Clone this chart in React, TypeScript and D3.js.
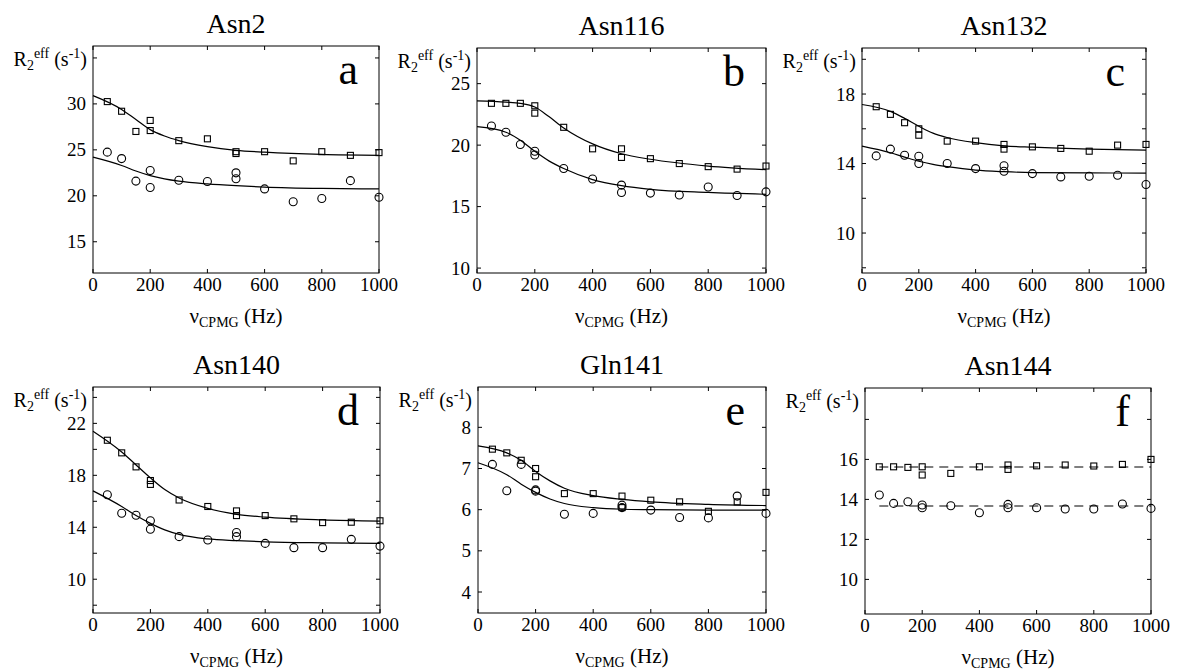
import React, { useRef, useEffect } from "react";
import * as d3 from "d3";

// CPMG frequencies (Hz) of the measured points, same for every residue
const nuCpmg = [50, 100, 150, 200, 200, 300, 400, 500, 500, 600, 700, 800, 900, 1000];
const fitGrid = [0, 100, 150, 200, 250, 300, 400, 500, 600, 800, 1000];
const flatGrid = [50, 1000];
const xTicks = [0, 200, 400, 600, 800, 1000];

const titles = ["Asn2", "Asn116", "Asn132", "Asn140", "Gln141", "Asn144"];
const letters = ["a", "b", "c", "d", "e", "f"];

// Asn2
const asn2Sq = [30.25, 29.2, 27.0, 28.2, 27.1, 26.0, 26.2, 24.8, 24.6, 24.8, 23.8, 24.8, 24.4, 24.7];
const asn2Ci = [24.75, 24.05, 21.6, 22.75, 20.9, 21.7, 21.55, 22.5, 21.85, 20.75, 19.35, 19.7, 21.65, 19.85];
const asn2SqFit = [30.9, 29.4, 28.3, 27.2, 26.5, 26.0, 25.35, 24.95, 24.75, 24.5, 24.4];
const asn2CiFit = [24.2, 23.3, 22.7, 22.2, 21.85, 21.6, 21.3, 21.1, 20.95, 20.8, 20.75];

// Asn116
const asn116Sq = [23.4, 23.4, 23.4, 23.2, 22.6, 21.45, 19.7, 19.7, 19.0, 18.9, 18.5, 18.25, 18.05, 18.3];
const asn116Ci = [21.55, 21.05, 20.05, 19.5, 19.2, 18.1, 17.25, 16.75, 16.15, 16.1, 15.95, 16.6, 15.9, 16.2];
const asn116SqFit = [23.6, 23.5, 23.4, 23.1, 22.3, 21.4, 20.1, 19.3, 18.85, 18.3, 18.0];
const asn116CiFit = [21.5, 21.05, 20.4, 19.5, 18.7, 18.1, 17.2, 16.7, 16.4, 16.15, 16.0];

// Asn132
const asn132Sq = [17.27, 16.83, 16.35, 16.0, 15.63, 15.29, 15.29, 15.1, 14.83, 14.96, 14.87, 14.71, 15.06, 15.1];
const asn132Ci = [14.44, 14.83, 14.48, 14.42, 14.0, 14.0, 13.71, 13.87, 13.56, 13.42, 13.23, 13.27, 13.33, 12.79];
const asn132SqFit = [17.4, 17.0, 16.6, 16.15, 15.75, 15.5, 15.2, 15.02, 14.94, 14.83, 14.77];
const asn132CiFit = [15.0, 14.62, 14.37, 14.13, 13.95, 13.82, 13.62, 13.53, 13.48, 13.46, 13.45];

// Asn140
const asn140Sq = [20.7, 19.73, 18.65, 17.6, 17.3, 16.1, 15.6, 15.26, 14.9, 14.9, 14.65, 14.36, 14.39, 14.5];
const asn140Ci = [16.5, 15.08, 14.93, 14.5, 13.85, 13.28, 13.02, 13.6, 13.28, 12.76, 12.43, 12.43, 13.07, 12.55];
const asn140SqFit = [21.4, 19.8, 18.8, 17.8, 16.9, 16.25, 15.45, 15.0, 14.78, 14.57, 14.48];
const asn140CiFit = [16.8, 15.6, 14.9, 14.3, 13.8, 13.45, 13.1, 12.97, 12.88, 12.8, 12.76];

// Gln141
const gln141Sq = [7.47, 7.38, 7.2, 7.0, 6.8, 6.39, 6.39, 6.33, 6.05, 6.23, 6.19, 5.96, 6.19, 6.42];
const gln141Ci = [7.1, 6.46, 7.1, 6.48, 6.45, 5.89, 5.91, 6.11, 6.05, 5.99, 5.81, 5.8, 6.33, 5.91];
const gln141SqFit = [7.55, 7.38, 7.2, 6.93, 6.7, 6.52, 6.34, 6.25, 6.19, 6.13, 6.1];
const gln141CiFit = [7.14, 6.85, 6.62, 6.42, 6.26, 6.15, 6.05, 6.01, 6.0, 5.99, 5.99];

// Asn144 (no exchange, flat dashed lines)
const asn144Sq = [15.63, 15.63, 15.6, 15.63, 15.22, 15.3, 15.63, 15.72, 15.5, 15.68, 15.72, 15.67, 15.75, 16.0];
const asn144Ci = [14.22, 13.8, 13.88, 13.72, 13.58, 13.68, 13.33, 13.75, 13.58, 13.58, 13.52, 13.52, 13.77, 13.55];
const asn144SqFit = [15.62, 15.62];
const asn144CiFit = [13.67, 13.67];

// y axes
const yDomains = [[11.6, 36.3], [9.6, 27.9], [7.7, 20.65], [7.4, 24.8], [3.49, 8.98], [8.27, 19.57]];
const yTicks = [
  [15, 20, 25, 30, 35],
  [10, 15, 20, 25],
  [8, 10, 12, 14, 16, 18, 20],
  [8, 10, 12, 14, 16, 18, 20, 22, 24],
  [4, 5, 6, 7, 8],
  [10, 12, 14, 16, 18],
];
const yLabels = [
  [15, 20, 25, 30],
  [10, 15, 20, 25],
  [10, 14, 18],
  [10, 14, 18, 22],
  [4, 5, 6, 7, 8],
  [10, 12, 14, 16],
];

const panels = [
  { sq: asn2Sq, ci: asn2Ci, sqFit: asn2SqFit, ciFit: asn2CiFit, grid: fitGrid, dashed: false },
  { sq: asn116Sq, ci: asn116Ci, sqFit: asn116SqFit, ciFit: asn116CiFit, grid: fitGrid, dashed: false },
  { sq: asn132Sq, ci: asn132Ci, sqFit: asn132SqFit, ciFit: asn132CiFit, grid: fitGrid, dashed: false },
  { sq: asn140Sq, ci: asn140Ci, sqFit: asn140SqFit, ciFit: asn140CiFit, grid: fitGrid, dashed: false },
  { sq: gln141Sq, ci: gln141Ci, sqFit: gln141SqFit, ciFit: gln141CiFit, grid: fitGrid, dashed: false },
  { sq: asn144Sq, ci: asn144Ci, sqFit: asn144SqFit, ciFit: asn144CiFit, grid: flatGrid, dashed: true },
];

// plot boxes [left, right, top, bottom]
const boxes = [
  [93, 379, 46, 273],
  [477, 766, 48, 273],
  [862, 1146, 48, 273],
  [93, 380, 387, 613],
  [478, 766, 387, 613],
  [865, 1151, 388, 614],
];

const FONT = "'Liberation Serif', 'Times New Roman', Times, serif";

function App() {
  const svgRef = useRef<SVGSVGElement>(null);

  useEffect(() => {
    const svg = d3.select(svgRef.current);
    svg.selectAll("*").remove();

    panels.forEach((p, i) => {
      const [x0, x1, y0, y1] = boxes[i];
      const g = svg.append("g");
      const x = d3.scaleLinear().domain([0, 1000]).range([x0, x1]);
      const y = d3.scaleLinear().domain(yDomains[i]).range([y1, y0]);

      const label = (tx: number, ty: number, size: number, anchor: string) =>
        g.append("text")
          .attr("x", tx)
          .attr("y", ty)
          .attr("text-anchor", anchor)
          .style("font-family", FONT)
          .style("font-size", size + "px");

      // title
      label((x0 + x1) / 2, y0 - 13, 28, "middle").text(titles[i]);

      // box
      g.append("rect")
        .attr("x", x0).attr("y", y0)
        .attr("width", x1 - x0).attr("height", y1 - y0)
        .attr("fill", "none").attr("stroke", "black").attr("stroke-width", 1);

      // ticks (inside, all four sides)
      yTicks[i].forEach((t) => {
        g.append("line").attr("x1", x0).attr("x2", x0 + 4).attr("y1", y(t)).attr("y2", y(t)).attr("stroke", "black");
        g.append("line").attr("x1", x1 - 4).attr("x2", x1).attr("y1", y(t)).attr("y2", y(t)).attr("stroke", "black");
      });
      xTicks.forEach((t) => {
        g.append("line").attr("x1", x(t)).attr("x2", x(t)).attr("y1", y1).attr("y2", y1 - 4).attr("stroke", "black");
        g.append("line").attr("x1", x(t)).attr("x2", x(t)).attr("y1", y0).attr("y2", y0 + 4).attr("stroke", "black");
      });

      // tick labels
      yLabels[i].forEach((t) => {
        label(x0 - 7, y(t) + 6.5, 19, "end").text(t);
      });
      xTicks.forEach((t) => {
        label(x(t), y1 + 18, 19, "middle").text(t);
      });

      // y label R2eff (s-1)
      const yl = label(x0 - 6, y0 + 20, 20, "end");
      yl.append("tspan").text("R");
      yl.append("tspan").style("font-size", "14px").attr("dy", 4).text("2");
      yl.append("tspan").style("font-size", "14px").attr("dy", -12).text("eff");
      yl.append("tspan").attr("dy", 8).text(" (s");
      yl.append("tspan").style("font-size", "14px").attr("dy", -8).text("-1");
      yl.append("tspan").attr("dy", 8).text(")");

      // x label
      const xl = label((x0 + x1) / 2, y1 + 50, 21, "middle");
      xl.append("tspan").text("\u03bd");
      xl.append("tspan").style("font-size", "14px").attr("dy", 4).text("CPMG");
      xl.append("tspan").attr("dy", -4).text(" (Hz)");

      // panel letter
      label(x1 - 21, y0 + 38, 44, "end").text(letters[i]);

      // fitted curves
      const line = d3.line<number>()
        .x((_, k) => x(p.grid[k]))
        .y((d) => y(d))
        .curve(d3.curveMonotoneX);
      [p.sqFit, p.ciFit].forEach((fit) => {
        g.append("path")
          .attr("d", line(fit))
          .attr("fill", "none")
          .attr("stroke", "black")
          .attr("stroke-width", 1.2)
          .attr("stroke-dasharray", p.dashed ? "9,6" : null);
      });

      // squares
      g.selectAll("rect.sq")
        .data(p.sq)
        .enter()
        .append("rect")
        .attr("class", "sq")
        .attr("x", (d, k) => x(nuCpmg[k]) - 3)
        .attr("y", (d) => y(d) - 3)
        .attr("width", 6)
        .attr("height", 6)
        .attr("fill", "none")
        .attr("stroke", "black")
        .attr("stroke-width", 1.1);

      // circles
      g.selectAll("circle.ci")
        .data(p.ci)
        .enter()
        .append("circle")
        .attr("class", "ci")
        .attr("cx", (d, k) => x(nuCpmg[k]))
        .attr("cy", (d) => y(d))
        .attr("r", 4)
        .attr("fill", "none")
        .attr("stroke", "black")
        .attr("stroke-width", 1.1);
    });
  }, []);

  return (
    <div style={{ position: "absolute", left: 0, top: 0 }}>
      <svg ref={svgRef} width={1177} height={672} style={{ display: "block", background: "white" }} />
    </div>
  );
}

export default App;
